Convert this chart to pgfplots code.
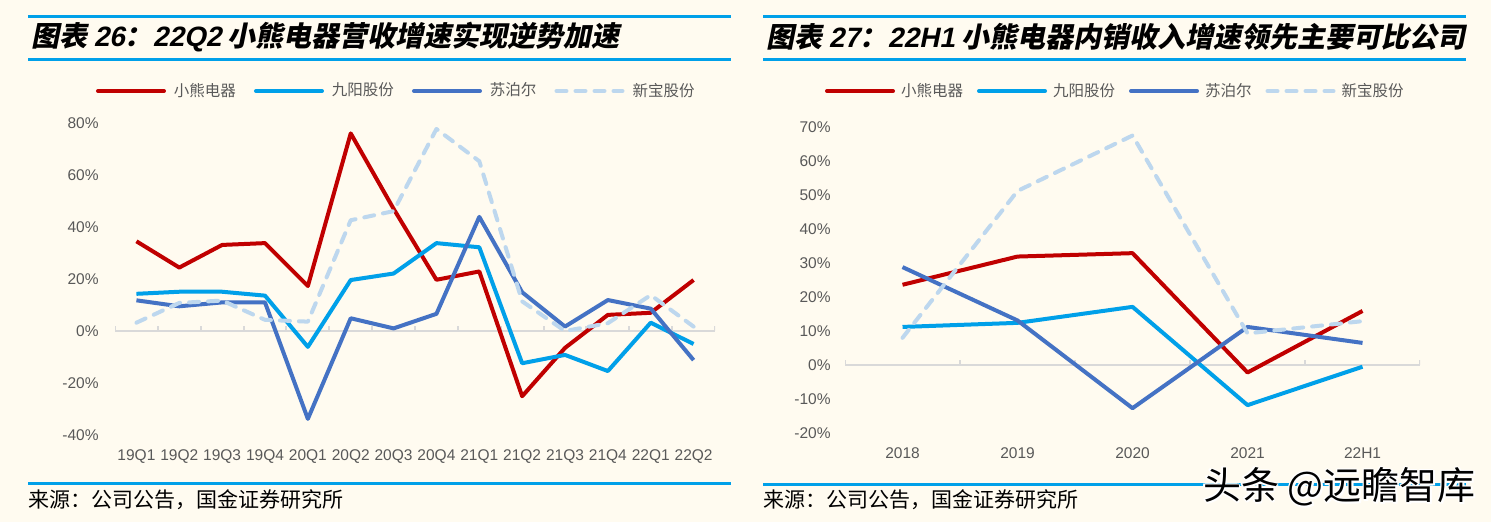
\documentclass[border=0pt]{standalone}
\usepackage{fontspec}
\usepackage{pgfplots}
\pgfplotsset{compat=1.18}
\setmainfont{Liberation Sans}
\newfontfamily\cjk{Noto Sans CJK SC}
\newfontfamily\titlecjk[FakeSlant=0.2]{Noto Sans CJK SC}
\definecolor{bgcol}{HTML}{FFFBF0}
\definecolor{xred}{HTML}{C00000}
\definecolor{xcyan}{HTML}{00A0E9}
\definecolor{xblue}{HTML}{4472C4}
\definecolor{xlight}{HTML}{BDD7EE}
\definecolor{lblgray}{HTML}{595959}
\definecolor{axgray}{HTML}{D9D9D9}
\definecolor{ruleblue}{HTML}{00A0E9}
\pgfplotsset{
  mystyle/.style={
    scale only axis,
    axis line style={draw=none},
    major tick length=0pt,
    tick style={draw=none},
    tick label style={font=\fontsize{7.75bp}{9bp}\selectfont, text=lblgray},
    yticklabel style={anchor=east, inner sep=0pt},
    xticklabel style={anchor=center, inner sep=0pt},
    legend style={draw=none, fill=none, legend columns=4, anchor=west,
      inner sep=0pt, outer sep=0pt, nodes={inner sep=0pt},
      font=\cjk\fontsize{7.75bp}{9bp}\selectfont, text=lblgray},
    legend cell align=left,
    legend image code/.code={\draw[##1, line cap=round] (1bp,0bp) -- (34bp,0bp);},
  },
  sred/.style={xred, line width=2bp, line join=round},
  scyan/.style={xcyan, line width=2bp, line join=round},
  sblue/.style={xblue, line width=2bp, line join=round},
  slight/.style={xlight, line width=2bp, line join=round, line cap=round, dash pattern=on 5bp off 4.5bp},
}
\begin{document}
\begin{tikzpicture}[x=0.5bp, y=-0.5bp]
\fill[bgcol] (0,0) rectangle (1491,522);
% rules
\draw[ruleblue, line width=1.5bp] (28,17) -- (731,17);
\draw[ruleblue, line width=1.5bp] (28,60) -- (731,60);
\draw[ruleblue, line width=1.5bp] (28,483) -- (731,483);
\draw[ruleblue, line width=1.5bp] (763,17) -- (1466,17);
\draw[ruleblue, line width=1.5bp] (763,60) -- (1466,60);
\draw[ruleblue, line width=1.5bp] (763,484) -- (1466,484);
% titles
\node[anchor=west, inner sep=0pt] at (31,37) {\fontsize{14bp}{16bp}\selectfont\bfseries\titlecjk 图表 {\fontspec{Liberation Sans}[FakeSlant=0.2]\bfseries 26}：{\fontspec{Liberation Sans}[FakeSlant=0.2]\bfseries 22Q2} 小熊电器营收增速实现逆势加速};
\node[anchor=west, inner sep=0pt] at (766,37) {\fontsize{14bp}{16bp}\selectfont\bfseries\titlecjk 图表 {\fontspec{Liberation Sans}[FakeSlant=0.2]\bfseries 27}：{\fontspec{Liberation Sans}[FakeSlant=0.2]\bfseries 22H1} 小熊电器内销收入增速领先主要可比公司};
% sources
\node[anchor=west, inner sep=0pt] at (28,500) {\cjk\fontsize{10.5bp}{12bp}\selectfont 来源：公司公告，国金证券研究所};
\node[anchor=west, inner sep=0pt] at (763,500) {\cjk\fontsize{10.5bp}{12bp}\selectfont 来源：公司公告，国金证券研究所};

\begin{axis}[mystyle,
  at={(57.5bp,-217.5bp)}, anchor=south west,
  width=300bp, height=156bp,
  xmin=-0.5, xmax=13.5, ymin=-40, ymax=80,
  xtick={0,...,13},
  xticklabels={19Q1,19Q2,19Q3,19Q4,20Q1,20Q2,20Q3,20Q4,21Q1,21Q2,21Q3,21Q4,22Q1,22Q2},
  ytick={-40,-20,0,20,40,60,80},
  yticklabels={-40\%,-20\%,0\%,20\%,40\%,60\%,80\%},
  yticklabel style={xshift=-8bp},
  xticklabel style={yshift=-11bp},
  legend style={at={(-0.0317,1.1026)},
    /tikz/every odd column/.append style={column sep=4bp},
    /tikz/every even column/.append style={column sep=9bp}},
]
\draw[axgray, line width=1bp] (axis cs:-0.5,0) -- (axis cs:13.5,0);
\pgfplotsinvokeforeach{-0.5,0.5,1.5,2.5,3.5,4.5,5.5,6.5,7.5,8.5,9.5,10.5,11.5,12.5,13.5}{
  \draw[axgray, line width=1bp] (axis cs:#1,0) -- ([yshift=2.5bp]axis cs:#1,0);
}
\addplot[sred] coordinates {(0,34.5) (1,24.4) (2,33.1) (3,33.8) (4,17.3) (5,76.0) (6,47.0) (7,19.7) (8,22.9) (9,-25.1) (10,-6.5) (11,6.2) (12,7.0) (13,19.6)};
\addlegendentry{小熊电器}
\addplot[scyan] coordinates {(0,14.3) (1,15.1) (2,15.1) (3,13.6) (4,-6.1) (5,19.6) (6,22.1) (7,33.8) (8,32.2) (9,-12.4) (10,-9.2) (11,-15.4) (12,3.2) (13,-5.0)};
\addlegendentry{九阳股份}
\addplot[sblue] coordinates {(0,11.8) (1,9.5) (2,11.0) (3,11.0) (4,-33.8) (5,4.9) (6,1.0) (7,6.6) (8,43.9) (9,14.9) (10,1.7) (11,11.9) (12,8.6) (13,-11.2)};
\addlegendentry{苏泊尔}
\addplot[slight] coordinates {(0,3.2) (1,10.8) (2,11.7) (3,4.3) (4,3.6) (5,42.6) (6,46.1) (7,77.7) (8,65.3) (9,11.4) (10,0.0) (11,3.0) (12,13.8) (13,1.7)};
\addlegendentry{新宝股份}
\end{axis}

\begin{axis}[mystyle,
  at={(422.5bp,-216.5bp)}, anchor=south west,
  width=287.5bp, height=153bp,
  xmin=-0.5, xmax=4.5, ymin=-20, ymax=70,
  xtick={0,...,4},
  xticklabels={2018,2019,2020,2021,22H1},
  ytick={-20,-10,0,10,20,30,40,50,60,70},
  yticklabels={-20\%,-10\%,0\%,10\%,20\%,30\%,40\%,50\%,60\%,70\%},
  yticklabel style={xshift=-7bp},
  xticklabel style={yshift=-10bp},
  legend style={at={(-0.0348,1.1176)},
    /tikz/every odd column/.append style={column sep=3bp},
    /tikz/every even column/.append style={column sep=7bp}},
]
\draw[axgray, line width=1bp] (axis cs:-0.5,0) -- (axis cs:4.5,0);
\pgfplotsinvokeforeach{-0.5,0.5,1.5,2.5,3.5,4.5}{
  \draw[axgray, line width=1bp] (axis cs:#1,0) -- ([yshift=2.5bp]axis cs:#1,0);
}
\addplot[sred] coordinates {(0,23.6) (1,31.9) (2,32.9) (3,-2.2) (4,15.9)};
\addlegendentry{小熊电器}
\addplot[scyan] coordinates {(0,11.2) (1,12.4) (2,17.1) (3,-11.8) (4,-0.5)};
\addlegendentry{九阳股份}
\addplot[sblue] coordinates {(0,28.8) (1,13.1) (2,-12.7) (3,11.2) (4,6.5)};
\addlegendentry{苏泊尔}
\addplot[slight] coordinates {(0,8.0) (1,51.2) (2,67.5) (3,9.3) (4,12.9)};
\addlegendentry{新宝股份}
\end{axis}

% watermark
\foreach \dx/\dy in {-1.5/0,1.5/0,0/-1.5,0/1.5,1.5/1.5,-1.5/-1.5}{
  \node[anchor=west, inner sep=0pt, text=white] at (1203+\dx,487+\dy) {\cjk\fontsize{19bp}{22bp}\selectfont 头条 @远瞻智库};
}
\node[anchor=west, inner sep=0pt, text=black] at (1203,487) {\cjk\fontsize{19bp}{22bp}\selectfont 头条 @远瞻智库};
\end{tikzpicture}
\end{document}
